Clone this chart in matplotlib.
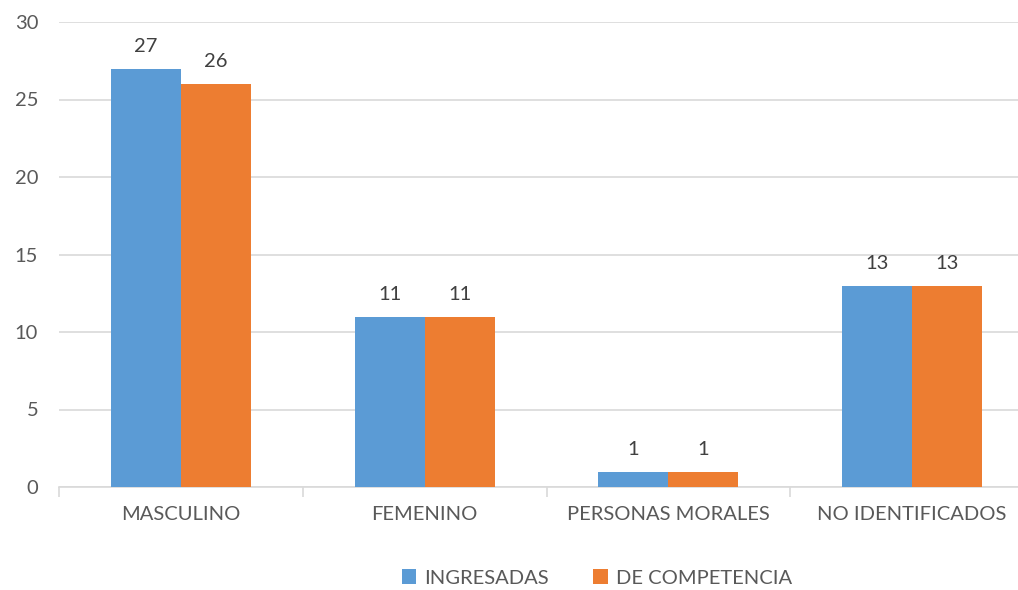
import matplotlib
matplotlib.use("Agg")
import matplotlib.pyplot as plt
import numpy as np

categories = ["MASCULINO", "FEMENINO", "PERSONAS MORALES", "NO IDENTIFICADOS"]
ingresadas = [27, 11, 1, 13]
competencia = [26, 11, 1, 13]
series_names = ["INGRESADAS", "DE COMPETENCIA"]
yticks = [0, 5, 10, 15, 20, 25, 30]

plt.rcParams['font.family'] = ['Lato', 'DejaVu Sans']
txt = '#595959'
blue = '#5B9BD5'
orange = '#ED7D31'
fs = 14.5

fig = plt.figure(figsize=(10.18, 5.9), dpi=100)
W, H = 1018, 590
ax = fig.add_axes([59 / W, (H - 487) / H, 975 / W, 465 / H])

x = np.arange(len(categories))
bw = 0.287
b1 = ax.bar(x - bw / 2, ingresadas, bw, color=blue, label=series_names[0], zorder=3)
b2 = ax.bar(x + bw / 2, competencia, bw, color=orange, label=series_names[1], zorder=3)

for bars in (b1, b2):
    for r in bars:
        ax.annotate(f"{int(r.get_height())}", (r.get_x() + r.get_width() / 2, r.get_height()),
                    xytext=(0, 10), textcoords='offset points', ha='center', va='bottom',
                    fontsize=fs, color='#404040')

ax.set_xlim(-0.5, len(categories) - 0.5)
ax.set_ylim(0, 30)
ax.set_yticks(yticks)
ax.set_yticklabels([str(v) for v in yticks], fontsize=fs, color=txt)
ax.yaxis.grid(True, color='#D9D9D9', linewidth=1.2, zorder=0)
ax.tick_params(axis='y', length=0, pad=15)

ax.set_xticks(x)
ax.set_xticklabels(categories, fontsize=fs, color=txt)
ax.tick_params(axis='x', length=0, pad=14)
ax.set_xticks(np.arange(-0.5, len(categories) + 0.5, 1), minor=True)
ax.tick_params(axis='x', which='minor', length=7, color='#D9D9D9', width=1.2, direction='out')

for s in ['top', 'right', 'left']:
    ax.spines[s].set_visible(False)
ax.spines['bottom'].set_color('#D9D9D9')
ax.spines['bottom'].set_linewidth(1.2)

leg = fig.legend(handles=[b1, b2], labels=series_names, loc='center',
                 bbox_to_anchor=(597 / W, (H - 578) / H), ncol=2, frameon=False,
                 fontsize=fs, handlelength=0.7, handleheight=0.7, columnspacing=2.2,
                 handletextpad=0.4)
for t in leg.get_texts():
    t.set_color(txt)

fig.savefig("out.png", dpi=100)
